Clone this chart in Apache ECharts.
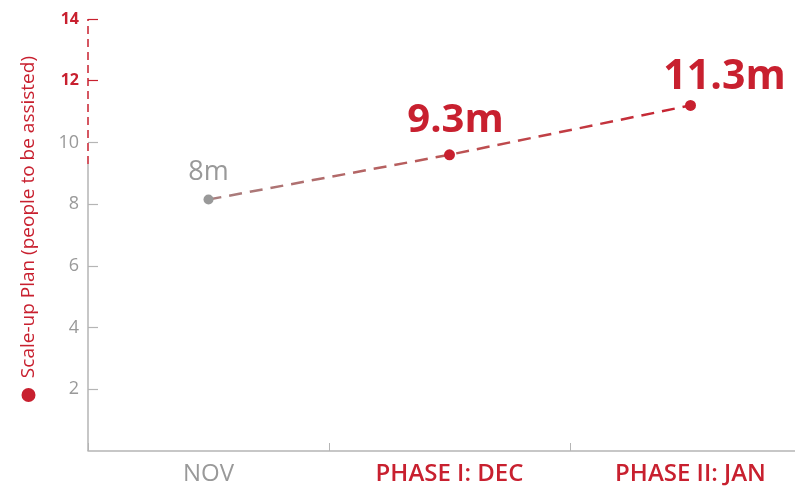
<!DOCTYPE html>
<html>
<head>
<meta charset="utf-8">
<script src="https://cdn.jsdelivr.net/npm/echarts@6/dist/echarts.min.js"></script>
<style>html,body{margin:0;padding:0;background:#fff}#c{width:795px;height:487px}</style>
</head>
<body>
<div id="c"></div>
<script>
const categories = ['NOV', 'PHASE I: DEC', 'PHASE II: JAN'];
const values = [8.15, 9.6, 11.2];
const valueLabels = ['8m', '9.3m', '11.3m'];
const yAxisName = 'Scale-up Plan (people to be assisted)';
const axisSplit = [0, 9.3, 14];
const grayTicks = [2, 4, 6, 8, 10];
const redTicks = [12, 14];

const RED = '#c8202f';
const GRAY = '#999999';
const AXIS = '#b5b5b5';
const FONT = '"Open Sans", sans-serif';

const chart = echarts.init(document.getElementById('c'));

const pointStyles = [
  { color: GRAY, size: 10, label: { color: GRAY, fontSize: 27, fontWeight: 'normal', distance: 9, offset: [0, 0] } },
  { color: RED, size: 11, label: { color: RED, fontSize: 40, fontWeight: 'bold', distance: 9, offset: [6, 0] } },
  { color: RED, size: 11, label: { color: RED, fontSize: 41, fontWeight: 'bold', distance: 2, offset: [34, 0] } }
];

const lineData = values.map((v, i) => ({
  value: v,
  symbolSize: pointStyles[i].size,
  itemStyle: { color: pointStyles[i].color },
  label: Object.assign({ show: true, position: 'top', fontFamily: FONT, formatter: valueLabels[i] }, pointStyles[i].label)
}));

const option = {
  animation: false,
  grid: { left: 88, width: 723, top: 19, bottom: 36, containLabel: false, outerBoundsMode: 'none' },
  xAxis: [
    {
      type: 'category',
      data: categories,
      boundaryGap: true,
      axisLine: { lineStyle: { color: AXIS, width: 1.5 } },
      axisTick: { show: true, inside: true, length: 8, lineStyle: { color: AXIS, width: 1 } },
      axisLabel: {
        margin: 11,
        fontFamily: FONT,
        formatter: (v, i) => (i === 0 ? '{g|' + v + '}' : '{r|' + v + '}'),
        rich: {
          g: { color: GRAY, fontSize: 24, fontFamily: FONT },
          r: { color: RED, fontSize: 24, fontWeight: 600, fontFamily: FONT }
        }
      },
      splitLine: { show: false }
    },
    { type: 'value', min: 0, max: 1, show: false }
  ],
  yAxis: [
    {
      type: 'value',
      min: 0, max: 14, interval: 2,
      axisLine: { show: false },
      axisTick: { show: true, inside: true, length: 10, customValues: grayTicks, lineStyle: { color: AXIS, width: 1.2 } },
      axisLabel: {
        margin: 9,
        fontFamily: FONT,
        formatter: v => (v === 0 ? '' : (v >= 12 ? '{r|' + v + '}' : '{g|' + v + '}')),
        rich: {
          g: { color: GRAY, fontSize: 18, fontFamily: FONT },
          r: { color: RED, fontSize: 16, fontWeight: 'bold', fontFamily: FONT }
        }
      },
      splitLine: { show: false },
      name: '{dot|}{t|  ' + yAxisName + '}',
      nameLocation: 'middle',
      nameGap: 50,
      nameRotate: 90,
      nameTextStyle: {
        padding: [0, 0, 0, 12],
        rich: {
          dot: { width: 14, height: 14, borderRadius: 7, backgroundColor: RED },
          t: { color: RED, fontSize: 19, fontFamily: FONT }
        }
      }
    },
    {
      type: 'value',
      min: 0, max: 14, interval: 2,
      position: 'left',
      axisLine: { show: false },
      axisTick: { show: true, inside: true, length: 10, customValues: redTicks, lineStyle: { color: RED, width: 1.2 } },
      axisLabel: { show: false },
      splitLine: { show: false }
    }
  ],
  series: [
    {
      type: 'line', xAxisIndex: 1, yAxisIndex: 0, silent: true, clip: false, symbol: 'none', z: 1,
      data: [[0, axisSplit[0]], [0, axisSplit[1]]],
      lineStyle: { color: AXIS, width: 1.5 }
    },
    {
      type: 'line', xAxisIndex: 1, yAxisIndex: 0, silent: true, clip: false, symbol: 'none', z: 1,
      data: [[0, axisSplit[1]], [0, axisSplit[2]]],
      lineStyle: { color: RED, width: 1.5, type: [8, 5] }
    },
    {
      type: 'line', xAxisIndex: 0, yAxisIndex: 0, z: 3,
      data: lineData,
      symbol: 'circle',
      lineStyle: {
        width: 2.5,
        type: [13, 8],
        color: new echarts.graphic.LinearGradient(0, 0, 1, 0, [
          { offset: 0, color: '#a88080' },
          { offset: 0.5, color: '#bb5555' },
          { offset: 1, color: RED }
        ])
      }
    }
  ]
};
chart.setOption(option);
</script>
</body>
</html>
